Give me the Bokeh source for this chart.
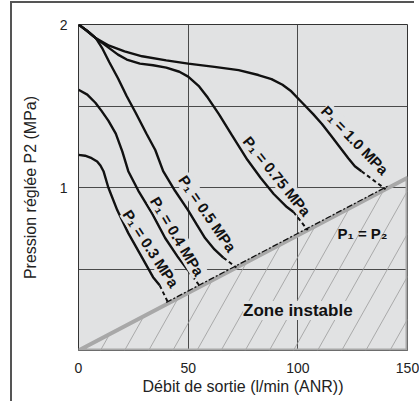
import numpy as np
from bokeh.plotting import figure
from bokeh.models import FixedTicker, Label
from bokeh.embed import file_html
from bokeh.resources import INLINE

# ---------------- data ----------------
x_ticks = [0, 50, 100, 150]
y_ticks = [1, 2]
x_grid = [50, 100]
y_grid = [0.5, 1.0, 1.5]

# P1 = P2 boundary (P2 reached at 150 l/min)
limit_flow = [0, 150]
limit_p2 = [0, 1.06]

curve_names = ["P₁ = 1.0 MPa", "P₁ = 0.75 MPa", "P₁ = 0.5 MPa", "P₁ = 0.4 MPa", "P₁ = 0.3 MPa"]

flow_10 = [0, 4, 8, 14, 21, 29, 40, 50, 62, 73, 82, 88, 93, 97, 102, 107, 111, 115, 119, 123, 126, 129]
p2_10 = [2.0, 1.96, 1.915, 1.87, 1.835, 1.805, 1.78, 1.76, 1.74, 1.72, 1.69, 1.665, 1.63, 1.59, 1.52, 1.45, 1.39, 1.32, 1.25, 1.18, 1.13, 1.10]

flow_075 = [0, 4, 8, 14, 18, 22, 28, 34, 40, 46, 50, 55, 59, 64, 70, 77, 83, 89, 95, 98]
p2_075 = [2.0, 1.96, 1.915, 1.855, 1.815, 1.785, 1.76, 1.75, 1.735, 1.71, 1.68, 1.62, 1.55, 1.45, 1.32, 1.17, 1.06, 0.96, 0.88, 0.85]

flow_05 = [0, 4, 8, 11, 14, 18, 22, 26, 31, 35, 38.6, 44, 50, 54, 57.7, 62, 66]
p2_05 = [2.0, 1.96, 1.915, 1.85, 1.77, 1.67, 1.56, 1.46, 1.33, 1.23, 1.10, 0.98, 0.86, 0.77, 0.69, 0.62, 0.57]

flow_04 = [0, 4, 7.7, 10.5, 13.6, 17, 20, 22.7, 27.3, 33.6, 39.5, 45.5, 50]
p2_04 = [1.6, 1.57, 1.52, 1.47, 1.41, 1.33, 1.22, 1.10, 0.98, 0.84, 0.69, 0.57, 0.49]

flow_03 = [0, 3, 6, 8.5, 10, 11.4, 13.6, 17.7, 22.7, 29, 34, 37]
p2_03 = [1.2, 1.195, 1.18, 1.16, 1.135, 1.10, 1.0, 0.86, 0.72, 0.57, 0.45, 0.40]

# flow where each curve meets the P1 = P2 line (dashed part)
limit_reach = [140, 104.5, 72, 55.5, 41]

# curve label placement
label_x = [126, 90.5, 58.8, 45, 33]
label_y = [1.29, 1.07, 0.84, 0.70, 0.625]
label_deg = [46, 51, 55.5, 59, 57]

BG = "#e1e2e3"
FONT = "Liberation Sans"

p = figure(width=419, height=401, x_range=(0, 150), y_range=(0, 2),
           output_backend="svg", toolbar_location=None,
           min_border_left=78, min_border_right=12, min_border_top=24, min_border_bottom=51,
           background_fill_color=BG, border_fill_color=None)
# outer document frame (left and top edges only)
p.styles = {
    "background-color": "white",
    "background-image": "linear-gradient(#555, #555), linear-gradient(#555, #555)",
    "background-size": "2px 400px, 404px 2px",
    "background-position": "10px 1px, 10px 1px",
    "background-repeat": "no-repeat",
}
p.outline_line_color = "#333"
p.outline_line_width = 1

p.xaxis.ticker = FixedTicker(ticks=x_ticks)
p.yaxis.ticker = FixedTicker(ticks=y_ticks)
p.xgrid.ticker = FixedTicker(ticks=x_grid)
p.ygrid.ticker = FixedTicker(ticks=y_grid)
for g in (p.xgrid, p.ygrid):
    g.grid_line_color = "#4a4a4a"
    g.grid_line_width = 1
    g.grid_line_alpha = 1

for ax in (p.xaxis, p.yaxis):
    ax.axis_line_color = None
    ax.major_tick_line_color = None
    ax.minor_tick_line_color = None
    ax.major_label_text_font = FONT
    ax.major_label_text_font_size = "14px"
    ax.major_label_text_color = "#222"
    ax.axis_label_text_font = FONT
    ax.axis_label_text_font_size = "16px"
    ax.axis_label_text_font_style = "normal"
    ax.axis_label_text_color = "#222"

p.xaxis.axis_label = "Débit de sortie (l/min (ANR))"
p.yaxis.axis_label = "Pression réglée P2 (MPa)"
p.xaxis.major_label_standoff = 6
p.xaxis.axis_label_standoff = 2
p.yaxis.major_label_standoff = 5
p.yaxis.axis_label_standoff = 18

# unstable zone: hatching + border
k = limit_p2[1] / limit_flow[1]
s = 0.0239
hx, hy = [], []
for x0 in np.arange(10, 150, 11):
    xe = x0 * s / (s - k)
    xe = min(xe, 150)
    hx.append([x0, xe])
    hy.append([0, s * (xe - x0)])
p.multi_line(xs=hx, ys=hy, line_color="#9a9a9a", line_width=0.8)

p.patch(x=[limit_flow[0], limit_flow[1], limit_flow[1]], y=[limit_p2[0], 0, limit_p2[1]],
        fill_color=None, line_color="#a8a8a8", line_width=4)
p.line(x=[40, 141], y=[k * 40 + 0.012, k * 141 + 0.012], line_color="#111",
       line_width=1.3, line_dash="6 2 2 2")

curves = [(flow_10, p2_10), (flow_075, p2_075), (flow_05, p2_05), (flow_04, p2_04), (flow_03, p2_03)]
for (fx, fy), xr in zip(curves, limit_reach):
    p.line(x=fx, y=fy, line_color="#111", line_width=2.4)
    p.line(x=[fx[-1], xr], y=[fy[-1], k * xr], line_color="#111", line_width=2, line_dash="4 3")

for name, lx, ly, ld in zip(curve_names, label_x, label_y, label_deg):
    p.add_layout(Label(x=lx, y=ly, text=name, angle=-np.radians(ld),
                       text_align="center", text_baseline="middle",
                       text_font=FONT, text_font_style="bold", text_font_size="15px",
                       text_color="#111", background_fill_color=BG))

p.add_layout(Label(x=129.5, y=0.72, text="P₁ = P₂", text_align="center", text_baseline="middle",
                   text_font=FONT, text_font_style="bold", text_font_size="15px", text_color="#111"))
p.add_layout(Label(x=100, y=0.245, text="Zone instable", text_align="center", text_baseline="middle",
                   text_font=FONT, text_font_style="bold", text_font_size="17px", text_color="#111",
                   background_fill_color=BG))

open("out.html", "w").write(file_html(p, INLINE))
